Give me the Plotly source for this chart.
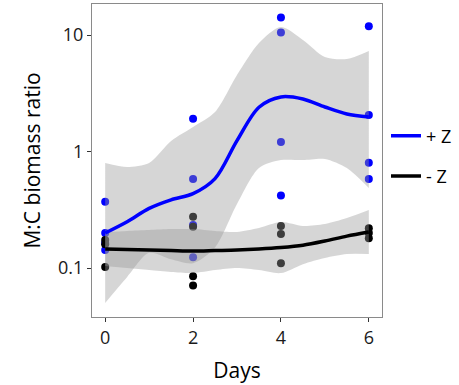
import plotly.graph_objects as go

# Raw observations
plus_days = [0, 0, 0, 0, 2, 2, 2, 2, 4, 4, 4, 4, 6, 6, 6, 6]
plus_vals = [0.371, 0.20, 0.164, 0.143, 1.91, 0.58, 0.234, 0.124,
             14.1, 10.5, 1.21, 0.42, 11.9, 2.06, 0.80, 0.58]
minus_days = [0, 0, 0, 2, 2, 2, 2, 4, 4, 4, 6, 6, 6]
minus_vals = [0.174, 0.102, 0.16, 0.276, 0.226, 0.085, 0.071,
              0.23, 0.196, 0.11, 0.22, 0.20, 0.18]

# Smoothed fits (loess)
fit_days = [0, 0.5, 1, 1.5, 2, 2.5, 3, 3.5, 4, 4.5, 5, 5.5, 6]
plus_fit = [0.200, 0.250, 0.325, 0.385, 0.435, 0.585, 1.24, 2.40, 2.94, 2.82, 2.41, 2.10, 1.98]
plus_hi = [0.797, 0.736, 0.797, 1.23, 1.62, 2.18, 4.54, 8.54, 11.7, 9.06, 6.47, 6.22, 7.29]
plus_lo = [0.0501, 0.0837, 0.135, 0.119, 0.110, 0.150, 0.354, 0.722, 0.845, 0.845, 0.863, 0.722, 0.486]
minus_fit = [0.1456, 0.144, 0.1427, 0.1413, 0.140, 0.1413, 0.1427, 0.1456, 0.150, 0.157, 0.1706, 0.188, 0.204]
minus_hi = [0.204, 0.208, 0.212, 0.216, 0.216, 0.208, 0.204, 0.2205, 0.248, 0.2296, 0.2387, 0.2686, 0.315]
minus_lo = [0.104, 0.100, 0.0961, 0.0924, 0.0906, 0.0961, 0.100, 0.0961, 0.0906, 0.108, 0.122, 0.132, 0.132]

x_ticks = [0, 2, 4, 6]
y_ticks = [0.1, 1, 10]
y_ticktext = ["0.1", "1", "10"]

BLUE = "#0000FF"
BLACK = "#000000"
RIBBON = "rgba(153,153,153,0.4)"
FONT = "Open Sans"

fig = go.Figure()

# points first (ribbons drawn over them)
fig.add_trace(go.Scatter(x=plus_days, y=plus_vals, mode="markers",
                         marker=dict(color=BLUE, size=8), showlegend=False))
fig.add_trace(go.Scatter(x=minus_days, y=minus_vals, mode="markers",
                         marker=dict(color=BLACK, size=8), showlegend=False))

for lo, hi in [(plus_lo, plus_hi), (minus_lo, minus_hi)]:
    fig.add_trace(go.Scatter(x=fit_days, y=lo, mode="lines",
                             line=dict(width=0, shape="spline", smoothing=0.8),
                             showlegend=False, hoverinfo="skip"))
    fig.add_trace(go.Scatter(x=fit_days, y=hi, mode="lines",
                             line=dict(width=0, shape="spline", smoothing=0.8),
                             fill="tonexty", fillcolor=RIBBON, showlegend=False, hoverinfo="skip"))

fig.add_trace(go.Scatter(x=fit_days, y=plus_fit, mode="lines", name="+ Z",
                         line=dict(color=BLUE, width=3.5, shape="spline", smoothing=0.9),
                         legendgroup="p"))
fig.add_trace(go.Scatter(x=fit_days, y=minus_fit, mode="lines", name="- Z",
                         line=dict(color=BLACK, width=3.5, shape="spline", smoothing=0.9),
                         legendgroup="m"))

axis_common = dict(showgrid=False, zeroline=False, showline=True, mirror=True,
                   linecolor="#8a8a8a", linewidth=1, ticks="outside", ticklen=4,
                   tickcolor="#333333", tickwidth=1, automargin=False,
                   tickfont=dict(family=FONT, size=18, color="#1a1a1a"))

fig.update_xaxes(range=[-0.3, 6.3], tickvals=x_ticks, title_text="Days",
                 title_standoff=15, title_font=dict(family=FONT, size=21, color="#000000"),
                 **axis_common)
fig.update_yaxes(type="log", range=[-1.42, 1.266], tickvals=y_ticks, ticktext=y_ticktext,
                 title_text="M:C biomass ratio", title_standoff=11,
                 title_font=dict(family=FONT, size=21, color="#000000"), **axis_common)

fig.update_layout(
    width=459, height=385,
    margin=dict(l=92, r=77, t=4, b=68, autoexpand=False),
    plot_bgcolor="white", paper_bgcolor="white",
    font=dict(family=FONT, size=18, color="#000000"),
    legend=dict(xref="container", yref="container", x=386 / 459, xanchor="left",
                y=1 - 156 / 385, yanchor="middle",
                font=dict(family=FONT, size=18), tracegroupgap=14,
                bgcolor="rgba(0,0,0,0)"),
)

fig.write_html("out.html", config={"displayModeBar": False},
               post_script="document.body.style.margin='0';document.body.style.overflow='hidden';")
